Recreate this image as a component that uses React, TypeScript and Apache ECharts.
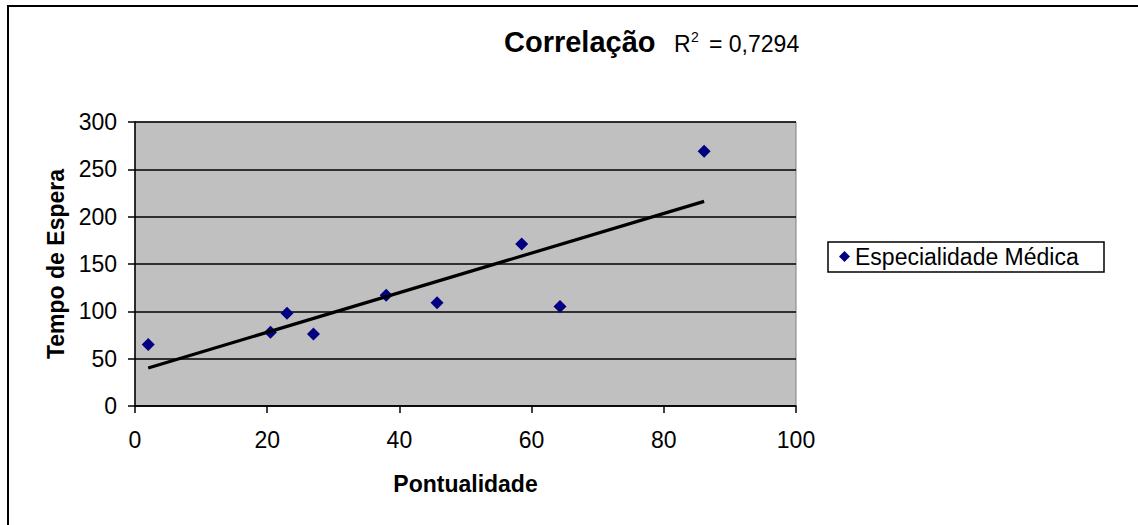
import React, { useEffect, useRef } from "react";
import * as echarts from "echarts";

const pontualidade = [2, 20.5, 23, 27, 38, 45.7, 58.5, 64.3, 86.1];
const tempoEspera = [65, 78, 98, 76, 117, 109, 171, 105, 269];
const seriesName = "Especialidade Médica";
const titleText = "Correlação";
const r2Value = "= 0,7294";
const xTicks = { min: 0, max: 100, interval: 20 };
const yTicks = { min: 0, max: 300, interval: 50 };

const FONT = 'Arial, "Liberation Sans", sans-serif';

function regression(xs: number[], ys: number[]) {
  const n = xs.length;
  const mx = xs.reduce((a, b) => a + b, 0) / n;
  const my = ys.reduce((a, b) => a + b, 0) / n;
  let sxy = 0, sxx = 0;
  for (let i = 0; i < n; i++) {
    sxy += (xs[i] - mx) * (ys[i] - my);
    sxx += (xs[i] - mx) * (xs[i] - mx);
  }
  const b = sxy / sxx;
  const a = my - b * mx;
  return { a, b };
}

export default function App() {
  const ref = useRef<HTMLDivElement>(null);
  useEffect(() => {
    if (!ref.current) return;
    const chart = echarts.init(ref.current, null, { renderer: "svg" });
    const { a, b } = regression(pontualidade, tempoEspera);
    const x0 = Math.min(...pontualidade);
    const x1 = Math.max(...pontualidade);
    const trend = [
      [x0, a + b * x0],
      [x1, a + b * x1],
    ];
    const points = pontualidade.map((x, i) => [x, tempoEspera[i]]);
    chart.setOption({
      animation: false,
      backgroundColor: "#ffffff",
      textStyle: { fontFamily: FONT },
      grid: {
        left: 135,
        top: 122,
        width: 661,
        height: 284,
        show: true,
        backgroundColor: "#C0C0C0",
        borderColor: "#808080",
        borderWidth: 1,
      },
      xAxis: {
        type: "value",
        min: xTicks.min,
        max: xTicks.max,
        interval: xTicks.interval,
        name: "Pontualidade",
        nameLocation: "middle",
        nameGap: 66,
        nameTextStyle: { fontFamily: FONT, fontSize: 23, fontWeight: "bold", color: "#000" },
        axisLine: { show: true, lineStyle: { color: "#000", width: 1.5 } },
        axisTick: { show: true, inside: false, length: 7, lineStyle: { color: "#000", width: 1.5 } },
        axisLabel: { color: "#000", fontSize: 23, fontFamily: FONT, margin: 22 },
        splitLine: { show: false },
      },
      yAxis: {
        type: "value",
        min: yTicks.min,
        max: yTicks.max,
        interval: yTicks.interval,
        name: "Tempo de Espera",
        nameLocation: "middle",
        nameGap: 67,
        nameTextStyle: { fontFamily: FONT, fontSize: 23, fontWeight: "bold", color: "#000" },
        axisLine: { show: true, lineStyle: { color: "#000", width: 1.5 } },
        axisTick: { show: true, inside: false, length: 7, lineStyle: { color: "#000", width: 1.5 } },
        axisLabel: { color: "#000", fontSize: 23, fontFamily: FONT, margin: 18 },
        splitLine: { show: true, lineStyle: { color: "#000", width: 1.5 } },
      },
      legend: {
        data: [seriesName],
        left: 839,
        top: 245,
        icon: "diamond",
        itemWidth: 11,
        itemHeight: 11,
        itemGap: 0,
        padding: 0,
        textStyle: { fontFamily: FONT, fontSize: 23, color: "#000" },
      },
      graphic: [
        {
          type: "rect",
          shape: { x: 8, y: 6, width: 1200, height: 600 },
          style: { fill: "none", stroke: "#000", lineWidth: 2 },
          silent: true,
          z: -1,
        },
        {
          type: "rect",
          shape: { x: 828, y: 242, width: 276, height: 30 },
          style: { fill: "none", stroke: "#000", lineWidth: 1.5 },
          silent: true,
        },
        {
          type: "text",
          left: 504,
          top: 27,
          style: { text: titleText, font: `bold 29px ${FONT}`, fill: "#000" },
        },
        {
          type: "text",
          left: 674,
          top: 32,
          style: { text: "R", font: `23px ${FONT}`, fill: "#000" },
        },
        {
          type: "text",
          left: 691,
          top: 30,
          style: { text: "2", font: `14px ${FONT}`, fill: "#000" },
        },
        {
          type: "text",
          left: 709,
          top: 32,
          style: { text: r2Value, font: `23px ${FONT}`, fill: "#000" },
        },
      ],
      series: [
        {
          name: seriesName,
          type: "scatter",
          data: points,
          symbol: "diamond",
          symbolSize: 13,
          itemStyle: { color: "#000080", opacity: 1 },
          z: 3,
        },
        {
          name: "Tendência",
          type: "line",
          data: trend,
          showSymbol: false,
          symbol: "none",
          lineStyle: { color: "#000", width: 3.2 },
          z: 4,
        },
      ],
    });
    return () => chart.dispose();
  }, []);
  return (
    <div
      ref={ref}
      style={{ position: "absolute", left: 0, top: 0, width: 1138, height: 525 }}
    />
  );
}
